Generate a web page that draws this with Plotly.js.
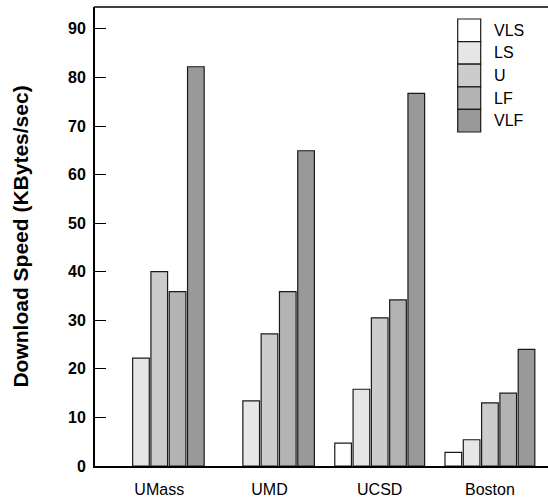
<!DOCTYPE html>
<html>
<head>
<meta charset="utf-8">
<script src="https://cdn.plot.ly/plotly-3.0.1.min.js"></script>
<style>html,body{margin:0;padding:0;background:#fff;overflow:hidden;}#chart{width:548px;height:497px;}</style>
</head>
<body>
<div id="chart"></div>
<script>
const categories = ["UMass", "UMD", "UCSD", "Boston"];
const seriesNames = ["VLS", "LS", "U", "LF", "VLF"];
const vls = [null, null, 4.7, 2.8];
const ls  = [22.2, 13.4, 15.8, 5.4];
const u   = [40.0, 27.2, 30.5, 13.0];
const lf  = [35.9, 35.9, 34.2, 15.0];
const vlf = [82.2, 64.9, 76.7, 24.0];
const yTicks = [0, 10, 20, 30, 40, 50, 60, 70, 80, 90];

const seriesValues = [vls, ls, u, lf, vlf];
const colors = ["#ffffff", "#e6e6e6", "#cccccc", "#b3b3b3", "#999999"];
const FONT = "Liberation Sans, Arial, Helvetica, sans-serif";

const traces = seriesNames.map((n, i) => ({
  type: "bar",
  name: n,
  x: categories.map((c, k) => k),
  y: seriesValues[i],
  marker: {color: colors[i], line: {color: "#1a1a1a", width: 1.2}},
  showlegend: false,
  hoverinfo: "x+y+name"
}));

// plot area in pixels
const L = 95, R = 548, T = 7, B = 466;
const W = 548, H = 497;
const px2x = p => (p - L) / (R - L);
const px2y = p => (B - p) / (B - T);

const shapes = [
  {type: "line", xref: "paper", yref: "paper", x0: px2x(94), x1: 1.01, y0: 1, y1: 1,
   line: {color: "#000", width: 1.5}, layer: "above"}
];
const annotations = [];
const boxX0 = 457.7, boxX1 = 480.7, boxTop = 19, boxH = 22.6;
seriesNames.forEach((n, i) => {
  const y0 = boxTop + i * boxH, y1 = y0 + boxH;
  shapes.push({type: "rect", xref: "paper", yref: "paper",
    x0: px2x(boxX0), x1: px2x(boxX1), y0: px2y(y1), y1: px2y(y0),
    fillcolor: colors[i], line: {color: "#1a1a1a", width: 1.2}});
  annotations.push({xref: "paper", yref: "paper", x: px2x(492), y: px2y((y0 + y1) / 2),
    xanchor: "left", yanchor: "middle", showarrow: false, text: n,
    font: {family: FONT, size: 16, color: "#000"}});
});

const layout = {
  width: W, height: H,
  margin: {l: L, r: W - R, t: T, b: H - B, pad: 0},
  paper_bgcolor: "#fff", plot_bgcolor: "#fff",
  barmode: "group",
  bargap: 0.17,
  bargroupgap: 0.09,
  font: {family: FONT, color: "#000"},
  xaxis: {
    range: [-0.583, 3.527],
    tickmode: "array", tickvals: categories.map((c, k) => k), ticktext: categories,
    ticks: "", showgrid: false, zeroline: false,
    showline: true, linecolor: "#000", linewidth: 2, mirror: false,
    tickfont: {family: FONT, size: 16, color: "#000"},
    ticklabelstandoff: 8
  },
  yaxis: {
    range: [0, 94.5],
    tickmode: "array", tickvals: yTicks, ticktext: yTicks.map(String),
    ticks: "inside", ticklen: 11, tickwidth: 1, tickcolor: "#000",
    showgrid: false, zeroline: false,
    showline: true, linecolor: "#000", linewidth: 2, mirror: false,
    tickfont: {family: FONT, size: 16, color: "#000", weight: "bold"},
    ticklabelstandoff: 4,
    title: {text: "<b>Download Speed (KBytes/sec)</b>", font: {family: FONT, size: 21, color: "#000"}, standoff: 34}
  },
  shapes: shapes,
  annotations: annotations
};

Plotly.newPlot("chart", traces, layout, {displayModeBar: false, staticPlot: true});
</script>
</body>
</html>
